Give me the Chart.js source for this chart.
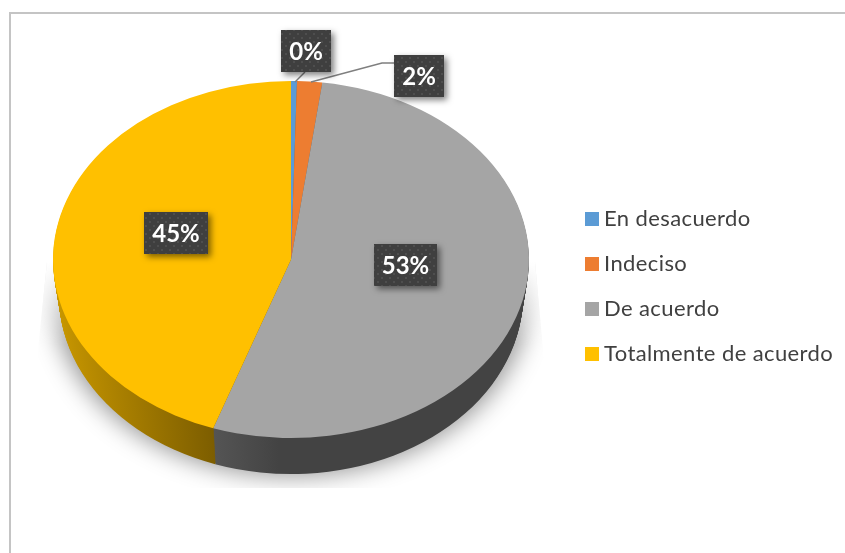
<!DOCTYPE html>
<html>
<head>
<meta charset="utf-8">
<style>html,body{margin:0;padding:0;background:#fff}canvas{display:block}</style>
<script src="https://cdn.jsdelivr.net/npm/chart.js@4"></script>
</head>
<body>
<canvas id="c" width="845" height="553"></canvas>
<script>
// Data
const categories = ["En desacuerdo", "Indeciso", "De acuerdo", "Totalmente de acuerdo"];
const shares = [0.4, 1.7, 53.2, 44.7];
const sliceColors = ["#5b9bd5", "#ed7d31", "#a5a5a5", "#ffc000"];
const wallColors = [["#3f6c95", "#3f6c95"], ["#a55722", "#a55722"], ["#434343", "#545454"], ["#c89700", "#7c5d00"]];

// Presentation
const view = { cx: 291, cy: 259.5, tilt: 0.75, depth: 36, wallRx: 232 };
const labelBoxes = [[281, 30, 50, 42], [394, 55, 50, 42], [374, 244, 63, 42], [144, 212, 64, 42]];
const leaders = [[[305, 72], [295, 82]], [[394, 63], [382, 63], [311, 82]]];
const legendPos = { x: 585, y: 212, box: 14, step: 45, gap: 5 };

function arcsOf(chart) { return chart.getDatasetMeta(0).data; }

const pie3d = {
  id: "pie3d",
  beforeDraw(chart) {
    const ctx = chart.ctx;
    ctx.save();
    ctx.fillStyle = "#ffffff";
    ctx.fillRect(0, 0, chart.width, chart.height);
    // frame
    ctx.fillStyle = "#c4c4c4";
    ctx.fillRect(9, 12, chart.width - 9, 2);
    ctx.fillRect(9, 12, 2, chart.height - 12);
    ctx.restore();
  },
  beforeDatasetsDraw(chart) {
    const ctx = chart.ctx;
    const arcs = arcsOf(chart);
    const R = arcs[0].outerRadius;
    // soft floor shadow, clipped the way the original picture is
    ctx.save();
    ctx.beginPath();
    ctx.moveTo(47, 262); ctx.lineTo(535, 262); ctx.lineTo(544, 360); ctx.lineTo(544, 488);
    ctx.lineTo(38, 488); ctx.lineTo(38, 350); ctx.closePath();
    ctx.clip();
    ctx.save();
    ctx.shadowColor = "rgba(0,0,0,0.42)";
    ctx.shadowBlur = 24;
    ctx.shadowOffsetX = 2000;
    ctx.beginPath();
    ctx.ellipse(view.cx - 2000, view.cy + 34, R * 1.0, R * view.tilt + 4, 0, 0, Math.PI * 2);
    ctx.fillStyle = "#000";
    ctx.fill();
    ctx.restore();
    // the shadow fades out towards its upper end
    const fade = ctx.createLinearGradient(0, 262, 0, 345);
    fade.addColorStop(0, "rgba(255,255,255,1)");
    fade.addColorStop(1, "rgba(255,255,255,0)");
    ctx.fillStyle = fade;
    ctx.fillRect(30, 262, 520, 83);
    ctx.restore();
    // wall: stacked copies of each arc, narrowing with depth
    for (let t = view.depth; t >= 1; t--) {
      const rx = R + (view.wallRx - R) * (t / view.depth);
      arcs.forEach((a, i) => {
        ctx.save();
        ctx.translate(view.cx, view.cy + t);
        ctx.scale(rx / R, view.tilt);
        let g;
        if (i === 2) {
          g = ctx.createLinearGradient(-R * 0.32, 0, -R * 0.05, 0);
          g.addColorStop(0, wallColors[i][1]);
          g.addColorStop(1, wallColors[i][0]);
        } else {
          g = ctx.createLinearGradient(-R, 0, -R * 0.32, 0);
          g.addColorStop(0, wallColors[i][0]);
          g.addColorStop(1, wallColors[i][1]);
        }
        ctx.fillStyle = g;
        ctx.beginPath();
        ctx.moveTo(0, 0);
        ctx.arc(0, 0, R, a.startAngle, a.endAngle);
        ctx.closePath();
        ctx.fill();
        ctx.restore();
      });
    }
    // the library then draws the top face through this transform
    ctx.save();
    ctx.translate(view.cx, view.cy);
    ctx.scale(1, view.tilt);
    ctx.translate(-arcs[0].x, -arcs[0].y);
  },
  afterDatasetsDraw(chart) {
    const ctx = chart.ctx;
    ctx.restore();
    // leader lines
    ctx.save();
    ctx.strokeStyle = "#7f7f7f";
    ctx.lineWidth = 1.5;
    leaders.forEach(pts => {
      ctx.beginPath();
      pts.forEach((p, i) => i ? ctx.lineTo(p[0], p[1]) : ctx.moveTo(p[0], p[1]));
      ctx.stroke();
    });
    ctx.restore();
    // data labels
    const tile = document.createElement("canvas");
    tile.width = tile.height = 8;
    const tc = tile.getContext("2d");
    tc.fillStyle = "#3f3f3f"; tc.fillRect(0, 0, 8, 8);
    tc.fillStyle = "#4e4e4e";
    tc.fillRect(1, 1, 2, 2); tc.fillRect(5, 5, 2, 2);
    const pat = ctx.createPattern(tile, "repeat");
    shares.forEach((v, i) => {
      const [x, y, w, h] = labelBoxes[i];
      ctx.save();
      ctx.shadowColor = "rgba(0,0,0,0.5)";
      ctx.shadowBlur = 6;
      ctx.shadowOffsetX = 3;
      ctx.shadowOffsetY = 3;
      ctx.fillStyle = pat;
      ctx.fillRect(x, y, w, h);
      ctx.restore();
      ctx.save();
      ctx.fillStyle = "#ffffff";
      ctx.font = "bold 24px Lato, sans-serif";
      ctx.textAlign = "center";
      ctx.textBaseline = "middle";
      ctx.fillText(Math.round(v) + "%", x + w / 2, y + h / 2 + 1);
      ctx.restore();
    });
    // legend
    ctx.save();
    ctx.font = "22px Lato, sans-serif";
    ctx.letterSpacing = "0.4px";
    ctx.textBaseline = "middle";
    ctx.textAlign = "left";
    categories.forEach((name, i) => {
      const y = legendPos.y + i * legendPos.step;
      ctx.fillStyle = sliceColors[i];
      ctx.fillRect(legendPos.x, y, legendPos.box, legendPos.box);
      ctx.fillStyle = "#404040";
      ctx.fillText(name, legendPos.x + legendPos.box + legendPos.gap, y + legendPos.box / 2);
    });
    ctx.restore();
  }
};

new Chart(document.getElementById("c"), {
  type: "pie",
  data: {
    labels: categories,
    datasets: [{ data: shares, backgroundColor: sliceColors, borderWidth: 0 }]
  },
  options: {
    responsive: false,
    animation: false,
    layout: { padding: { left: 53, right: 316, top: 20, bottom: 57 } },
    plugins: { legend: { display: false }, tooltip: { enabled: false } }
  },
  plugins: [pie3d]
});
</script>
</body>
</html>
